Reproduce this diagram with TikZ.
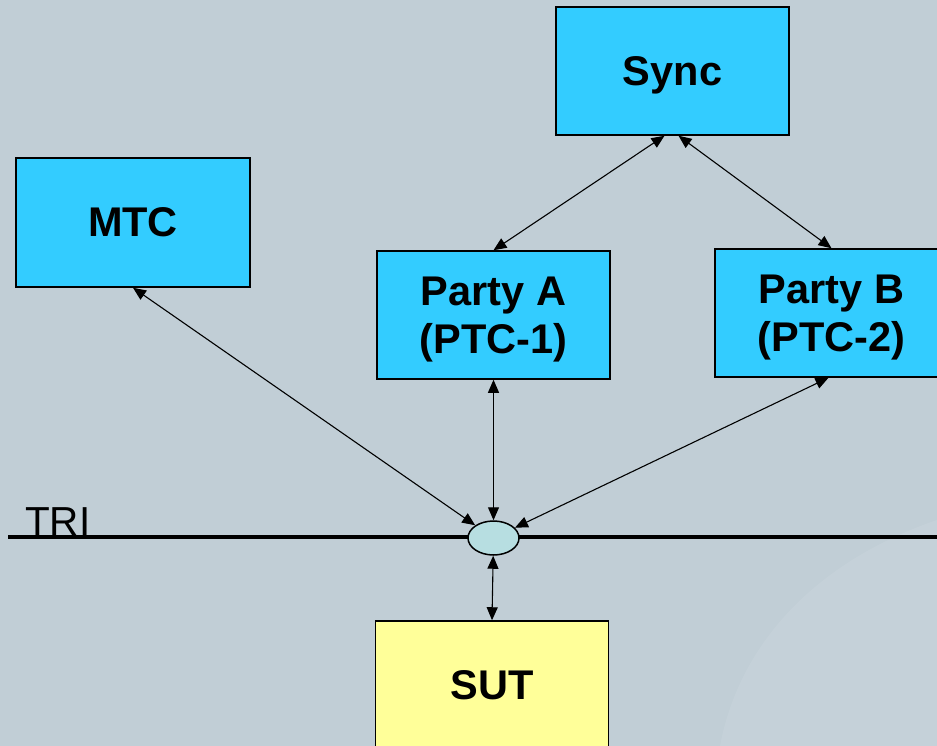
\documentclass[tikz,border=0pt]{standalone}
\usepackage{fontspec}
\setmainfont{Liberation Sans}
\usetikzlibrary{arrows.meta,calc,shapes.geometric}
\definecolor{bgc}{HTML}{C1CED6}
\definecolor{boxblue}{HTML}{33CCFF}
\definecolor{boxyellow}{HTML}{FFFF99}
\definecolor{ellc}{HTML}{B7DEE1}
\tikzset{
  comp/.style={draw=black, line width=1.5pt, fill=boxblue, minimum width=233pt, minimum height=128pt, align=center, inner sep=0pt,
    font=\fontsize{41.5}{48}\selectfont\bfseries},
  conn/.style={line width=1.1pt, {Triangle[length=13pt,width=11pt]}-{Triangle[length=13pt,width=11pt]}},
}
\begin{document}
\begin{tikzpicture}[x=1pt,y=-1pt]
\useasboundingbox (0,0) rectangle (937,746);
\clip (0,0) rectangle (937,746);
\fill[bgc] (0,0) rectangle (937,746);
\fill[white, opacity=0.08] (937,520) .. controls (820,560) and (740,640) .. (720,746) -- (937,746) -- cycle;
% TRI line
\draw[line width=4pt] (8,537) coordinate (tl) -- (937,537) coordinate (tr);
\node[anchor=base west, inner sep=0pt, font=\fontsize{40.5}{44}\selectfont] (tri) at (25,535) {TRI};
% boxes
\node[comp, text depth=0pt] (sync) at (672.5,71) {Sync};
\node[comp, minimum width=234pt, minimum height=129pt] (mtc) at (133,222.5) {MTC};
\node[comp, text depth=0pt] (pa) at (493.5,315) {Party A\\(PTC-1)};
\node[comp, text depth=0pt] (pb) at (831.5,313) {Party B\\(PTC-2)};
\node[comp, fill=boxyellow] (sut) at (492,685) {SUT};
\node[draw=black, line width=1.5pt, fill=ellc, ellipse, minimum width=51pt, minimum height=34pt, inner sep=0pt] (e) at (493.5,538) {};
% connectors
\draw[conn] ($(sync.south)+(-8,0)$) -- (pa.north);
\draw[conn] ($(sync.south)+(6,0)$) -- (pb.north);
\draw[conn] (mtc.south) -- (e);
\draw[conn] (pa.south) -- (e);
\draw[conn] ($(pb.south)+(-3,0)$) -- (e);
\draw[conn] (e) -- (sut.north);
\end{tikzpicture}
\end{document}
